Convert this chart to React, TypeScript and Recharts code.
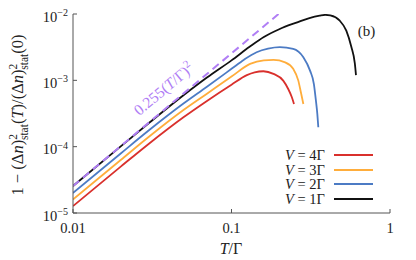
import React from 'react';
import { LineChart, Line, XAxis, YAxis, Legend } from 'recharts';

const FONT = '"Liberation Serif", "DejaVu Serif", serif';
const TEXT = '#222';
const AXIS = '#555';

const xTicks = [0.01, 0.1, 1];
const xTickLabels = ['0.01', '0.1', '1'];
const yTicks = [1e-5, 1e-4, 1e-3, 1e-2];
const yTickExponents = ['−5', '−4', '−3', '−2'];

const seriesLabels = ['4Γ', '3Γ', '2Γ', '1Γ'];
const seriesColors = ['#d9302c', '#ffad3b', '#4c7bc4', '#111111'];
const fitColor = '#b07ef5';

// V = 4Γ (red)
const tV4 = [0.01, 0.02, 0.03, 0.05, 0.07, 0.1, 0.125, 0.14, 0.159, 0.184, 0.212, 0.228, 0.24, 0.248];
const vV4 = [1.27e-5, 5.0e-5, 1.1e-4, 2.8e-4, 4.9e-4, 8.6e-4, 1.2e-3, 1.32e-3, 1.37e-3, 1.25e-3, 9.9e-4, 7.4e-4, 5.6e-4, 4.4e-4];
// V = 3Γ (orange)
const tV3 = [0.01, 0.02, 0.03, 0.05, 0.07, 0.1, 0.131, 0.16, 0.184, 0.218, 0.245, 0.264, 0.274, 0.284];
const vV3 = [1.6e-5, 6.3e-5, 1.4e-4, 3.6e-4, 6.3e-4, 1.14e-3, 1.77e-3, 2.0e-3, 2.03e-3, 1.87e-3, 1.49e-3, 9.9e-4, 6.6e-4, 4.4e-4];
// V = 2Γ (blue)
const tV2 = [0.01, 0.02, 0.03, 0.05, 0.07, 0.1, 0.12, 0.144, 0.17, 0.202, 0.245, 0.284, 0.313, 0.331, 0.341, 0.348, 0.353];
const vV2 = [2.0e-5, 7.9e-5, 1.75e-4, 4.5e-4, 8.0e-4, 1.49e-3, 2.05e-3, 2.65e-3, 3.0e-3, 3.16e-3, 2.98e-3, 2.23e-3, 1.4e-3, 8.8e-4, 4.9e-4, 3.1e-4, 1.96e-4];
// V = 1Γ (black)
const tV1 = [0.01, 0.02, 0.03, 0.05, 0.07, 0.1, 0.13, 0.16, 0.2, 0.26, 0.31, 0.36, 0.39, 0.42, 0.48, 0.53, 0.57, 0.6, 0.61];
const vV1 = [2.55e-5, 1.01e-4, 2.25e-4, 6.0e-4, 1.1e-3, 2.0e-3, 3.2e-3, 4.5e-3, 5.9e-3, 7.5e-3, 8.7e-3, 9.45e-3, 9.7e-3, 9.5e-3, 8.0e-3, 5.6e-3, 3.2e-3, 1.8e-3, 1.2e-3];
// 0.255 (T/Γ)^2
const tFit = [0.01, 0.198];
const vFit = [2.55e-5, 1e-2];

const toPoints = (t: number[], v: number[]) => t.map((x, i) => ({ x, y: v[i] }));

const seriesData = [toPoints(tV4, vV4), toPoints(tV3, vV3), toPoints(tV2, vV2), toPoints(tV1, vV1)];
const fitData = toPoints(tFit, vFit);

const XTick = (props: any) => {
  const { x, y, payload } = props;
  const i = xTicks.indexOf(payload.value);
  return (
    <g>
      <line x1={x} x2={x} y1={y} y2={y - 4} stroke={AXIS} strokeWidth={1} />
      <text x={x} y={y + 19.5} textAnchor="middle" fontFamily={FONT} fontSize={14.5} fill={TEXT}>
        {i >= 0 ? xTickLabels[i] : ''}
      </text>
    </g>
  );
};

const TopTick = (props: any) => {
  const { x, y } = props;
  return <line x1={x} x2={x} y1={y} y2={y + 4} stroke={AXIS} strokeWidth={1} />;
};

const YTick = (props: any) => {
  const { x, y, payload } = props;
  const i = yTicks.findIndex((v) => Math.abs(Math.log10(v) - Math.log10(payload.value)) < 1e-6);
  return (
    <g>
      <line x1={x} x2={x + 4} y1={y} y2={y} stroke={AXIS} strokeWidth={1} />
      <text x={x - 5} y={y + 7.5} textAnchor="end" fontFamily={FONT} fontSize={14.5} fill={TEXT}>
        10<tspan dy={-5.5} fontSize={10}>{i >= 0 ? yTickExponents[i] : ''}</tspan>
      </text>
    </g>
  );
};

const RightTick = (props: any) => {
  const { x, y } = props;
  return <line x1={x} x2={x - 4} y1={y} y2={y} stroke={AXIS} strokeWidth={1} />;
};

const LegendBox = () => (
  <div style={{ fontFamily: FONT, fontSize: 14.5, color: TEXT }}>
    {seriesLabels.map((lab, i) => (
      <div key={lab} style={{ display: 'flex', alignItems: 'center', height: 14.5, lineHeight: '14.5px' }}>
        <span style={{ width: 52, textAlign: 'right', whiteSpace: 'nowrap' }}>
          <i>V</i> = {lab}
        </span>
        <svg width={48} height={6} style={{ display: 'block' }}>
          <line x1={9} x2={48} y1={3} y2={3} stroke={seriesColors[i]} strokeWidth={1.8} />
        </svg>
      </div>
    ))}
  </div>
);

export default function App() {
  return (
    <LineChart width={408} height={252} margin={{ top: 6, right: 26, bottom: 17, left: 0 }} style={{ overflow: 'visible' }}>
      <XAxis
        xAxisId="b"
        dataKey="x"
        type="number"
        scale="log"
        domain={[0.01, 1]}
        ticks={xTicks}
        interval={0}
        allowDataOverflow
        height={30}
        tickLine={false}
        tickSize={0}
        tickMargin={0}
        axisLine={{ stroke: AXIS }}
        tick={XTick}
      />
      <XAxis
        xAxisId="t"
        orientation="top"
        dataKey="x"
        type="number"
        scale="log"
        domain={[0.01, 1]}
        ticks={xTicks}
        interval={0}
        allowDataOverflow
        height={0}
        tickLine={false}
        tickSize={0}
        tickMargin={0}
        axisLine={{ stroke: AXIS }}
        tick={TopTick}
      />
      <YAxis
        yAxisId="l"
        dataKey="y"
        type="number"
        scale="log"
        domain={[1e-5, 1e-2]}
        ticks={yTicks}
        interval={0}
        allowDataOverflow
        width={65}
        tickLine={false}
        tickSize={0}
        tickMargin={0}
        axisLine={{ stroke: AXIS }}
        tick={YTick}
      />
      <YAxis
        yAxisId="r"
        orientation="right"
        dataKey="y"
        type="number"
        scale="log"
        domain={[1e-5, 1e-2]}
        ticks={yTicks}
        interval={0}
        allowDataOverflow
        width={0}
        tickLine={false}
        tickSize={0}
        tickMargin={0}
        axisLine={{ stroke: AXIS }}
        tick={RightTick}
      />
      <Legend
        layout="vertical"
        align="center"
        verticalAlign="middle"
        content={LegendBox}
        wrapperStyle={{ left: 265, top: 140, width: 112, height: 60 }}
      />
      <Line xAxisId="t" yAxisId="r" data={fitData} dataKey="y" stroke="none" dot={false} activeDot={false} legendType="none" isAnimationActive={false} />
      {seriesData.map((d, i) => (
        <Line
          key={i}
          xAxisId="b"
          yAxisId="l"
          data={d}
          dataKey="y"
          type="monotone"
          stroke={seriesColors[i]}
          strokeWidth={1.8}
          dot={false}
          activeDot={false}
          isAnimationActive={false}
        />
      ))}
      <Line
        xAxisId="b"
        yAxisId="l"
        data={fitData}
        dataKey="y"
        type="linear"
        stroke={fitColor}
        strokeWidth={2}
        strokeDasharray="8 5"
        dot={false}
        activeDot={false}
        legendType="none"
        isAnimationActive={false}
      />
      <text x={159} y={85} transform="rotate(-40 159 85)" textAnchor="middle" fontFamily={FONT} fontSize={15.5} fill={fitColor}>
        0.255(<tspan fontStyle="italic">T</tspan>/Γ)<tspan dy={-6} fontSize={11}>2</tspan>
      </text>
      <text x={358.5} y={28} textAnchor="middle" fontFamily={FONT} fontSize={15} fill={TEXT}>(b)</text>
      <text x={223} y={246} textAnchor="middle" fontFamily={FONT} fontSize={16} fill={TEXT}>
        <tspan fontStyle="italic">T</tspan>/Γ
      </text>
      <text x={15} y={107} transform="rotate(-90 15 107)" textAnchor="middle" fontFamily={FONT} fontSize={16.5} fill={TEXT}>
        1 − (Δ<tspan fontStyle="italic">n</tspan>)<tspan fontSize={11.5} dy={-6.5}>2</tspan><tspan fontSize={11.5} dx={-6} dy={11}>stat</tspan><tspan dy={-4.5}>(</tspan><tspan fontStyle="italic">T</tspan>)/(Δ<tspan fontStyle="italic">n</tspan>)<tspan fontSize={11.5} dy={-6.5}>2</tspan><tspan fontSize={11.5} dx={-6} dy={11}>stat</tspan><tspan dy={-4.5}>(0)</tspan>
      </text>
    </LineChart>
  );
}
